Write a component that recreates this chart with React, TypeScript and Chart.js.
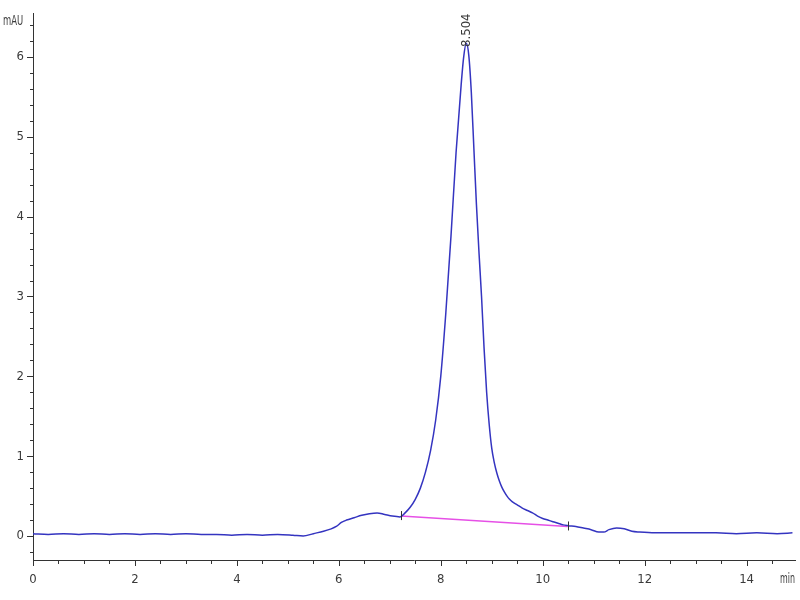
import { useEffect, useRef } from "react";
import { Chart, registerables } from "chart.js";

Chart.register(...registerables);

// Retention time (min)
const times = [
  0.0, 0.3, 0.6, 0.9, 1.2, 1.5, 1.8, 2.1, 2.4, 2.7, 3.0, 3.3, 3.6, 3.9, 4.2, 4.5, 4.8, 5.1, 5.3,
  5.5, 5.7, 5.85, 5.95, 6.05, 6.15, 6.3, 6.45, 6.6, 6.75, 6.9, 7.05, 7.2,
  7.3, 7.4, 7.5, 7.6, 7.7, 7.8, 7.9, 8.0, 8.1, 8.2, 8.3, 8.4, 8.45, 8.5,
  8.55, 8.6, 8.65, 8.7, 8.75, 8.8, 8.85, 8.9, 8.95, 9.0, 9.05, 9.1, 9.15, 9.2, 9.25, 9.3, 9.35, 9.4,
  9.5, 9.6, 9.7, 9.8, 9.9, 10.0, 10.1, 10.2, 10.3, 10.4, 10.5, 10.65, 10.8,
  10.95, 11.1, 11.2, 11.3, 11.45, 11.6, 11.75, 11.9, 12.2, 12.6, 13.0, 13.4,
  13.8, 14.2, 14.6, 14.9,
];

// Absorbance (mAU)
const absorbance = [
  0.03, 0.02, 0.03, 0.02, 0.03, 0.02, 0.03, 0.02, 0.03, 0.02, 0.03, 0.02, 0.02, 0.01, 0.02, 0.01, 0.02, 0.01, 0.0,
  0.03, 0.06, 0.09, 0.12, 0.17, 0.2, 0.23, 0.26, 0.28, 0.29, 0.27, 0.25, 0.24,
  0.29, 0.36, 0.46, 0.6, 0.8, 1.07, 1.45, 2.0, 2.8, 3.75, 4.8, 5.65, 6.0, 6.17,
  6.02, 5.55, 4.85, 4.15, 3.55, 3.0, 2.35, 1.8, 1.4, 1.1, 0.92, 0.79, 0.69, 0.61, 0.55, 0.5, 0.46, 0.43,
  0.39, 0.35, 0.32, 0.29, 0.25, 0.22, 0.2, 0.18, 0.16, 0.14, 0.13, 0.12, 0.1,
  0.08, 0.05, 0.05, 0.08, 0.1, 0.09, 0.06, 0.05, 0.04, 0.04, 0.04, 0.04,
  0.03, 0.04, 0.03, 0.04,
];

// Integration baseline
const baselineTimes = [7.22, 10.49];
const baselineValues = [0.25, 0.12];

// Peak annotation
const peakTimes = [8.504];
const peakValues = [6.15];
const peakLabels = ["8.504"];

const yUnitLabel = "mAU";
const xUnitLabel = "min";

const FONT = '"DejaVu Sans Condensed", "Liberation Sans Narrow", "DejaVu Sans", sans-serif';
const STRETCH = "condensed";
const TEXT_COLOR = "#3a3a3a";
const AXIS_COLOR = "#333333";

const decorPlugin = {
  id: "decor",
  afterDraw(chart: any) {
    const { ctx, chartArea } = chart;
    const x = chart.scales.x;
    const y = chart.scales.y;
    ctx.save();
    ctx.strokeStyle = AXIS_COLOR;
    ctx.lineWidth = 1;
    ctx.beginPath();
    // x ticks (major every 2, minor every 0.5)
    for (let i = 0; i * 0.5 <= x.max + 1e-9; i++) {
      const v = i * 0.5;
      const px = Math.round(x.getPixelForValue(v)) + 0.5;
      const len = i % 4 === 0 ? 6 : 4;
      ctx.moveTo(px, chartArea.bottom);
      ctx.lineTo(px, chartArea.bottom + len);
    }
    // y ticks (major every 1, minor every 0.2)
    for (let i = -1; i * 0.2 <= y.max + 1e-9; i++) {
      const v = i * 0.2;
      if (v < y.min) continue;
      const py = Math.round(y.getPixelForValue(v)) + 0.5;
      const len = i % 5 === 0 ? 6 : 3;
      ctx.moveTo(chartArea.left - len, py);
      ctx.lineTo(chartArea.left, py);
    }
    // integration markers
    for (let i = 0; i < baselineTimes.length; i++) {
      const px = Math.round(x.getPixelForValue(baselineTimes[i])) + 0.5;
      const py = y.getPixelForValue(baselineValues[i]);
      ctx.moveTo(px, py - 5);
      ctx.lineTo(px, py + 4);
    }
    ctx.stroke();

    // unit labels (narrow, as in the original plot)
    ctx.fillStyle = TEXT_COLOR;
    ctx.font = `${STRETCH} 13px ${FONT}`;
    ctx.textBaseline = "middle";
    ctx.save();
    ctx.translate(3, 21);
    ctx.scale(0.72, 1.05);
    ctx.textAlign = "left";
    ctx.fillText(yUnitLabel, 0, 0);
    ctx.restore();
    ctx.save();
    ctx.translate(chartArea.right, 579);
    ctx.scale(0.68, 1.05);
    ctx.textAlign = "right";
    ctx.fillText(xUnitLabel, 0, 0);
    ctx.restore();

    // peak labels, rotated
    ctx.font = `13px ${FONT}`;
    for (let i = 0; i < peakTimes.length; i++) {
      const px = x.getPixelForValue(peakTimes[i]);
      const py = y.getPixelForValue(peakValues[i]) + 2;
      ctx.save();
      ctx.translate(px, py);
      ctx.rotate(-Math.PI / 2);
      ctx.textAlign = "left";
      ctx.textBaseline = "middle";
      ctx.fillText(peakLabels[i], 0, 0);
      ctx.restore();
    }
    ctx.restore();
  },
};

export default function App() {
  const ref = useRef<HTMLCanvasElement>(null);
  useEffect(() => {
    if (!ref.current) return;
    const chart = new Chart(ref.current, {
      type: "line",
      data: {
        datasets: [
          {
            data: times.map((t, i) => ({ x: t, y: absorbance[i] })),
            borderColor: "#3434c0",
            borderWidth: 1.5,
            pointRadius: 0,
            cubicInterpolationMode: "monotone",
            fill: false,
          },
          {
            data: baselineTimes.map((t, i) => ({ x: t, y: baselineValues[i] })),
            borderColor: "#e650e6",
            borderWidth: 1.5,
            pointRadius: 0,
            fill: false,
          },
        ],
      },
      options: {
        animation: false,
        responsive: false,
        layout: { padding: { top: 13, right: 5, left: 0, bottom: 0 } },
        plugins: { legend: { display: false }, tooltip: { enabled: false } },
        scales: {
          x: {
            type: "linear",
            min: 0,
            max: 14.95,
            grid: { display: false },
            border: { display: true, color: AXIS_COLOR, width: 1 },
            ticks: {
              stepSize: 2,
              includeBounds: false,
              color: TEXT_COLOR,
              font: { family: FONT, size: 13, weight: STRETCH },
              padding: 4,
              maxRotation: 0,
            },
            afterFit: (s: any) => {
              s.height = 40;
            },
          },
          y: {
            type: "linear",
            min: -0.3,
            max: 6.55,
            grid: { display: false },
            border: { display: true, color: AXIS_COLOR, width: 1 },
            ticks: {
              stepSize: 1,
              includeBounds: false,
              color: TEXT_COLOR,
              font: { family: FONT, size: 13, weight: STRETCH },
              padding: 1,
            },
            afterFit: (s: any) => {
              s.width = 33;
            },
          },
        },
      },
      plugins: [decorPlugin],
    } as any);
    return () => chart.destroy();
  }, []);
  return (
    <div style={{ position: "fixed", left: 0, top: 0, width: 800, height: 600, background: "#fff" }}>
      <canvas ref={ref} width={800} height={600} />
    </div>
  );
}
